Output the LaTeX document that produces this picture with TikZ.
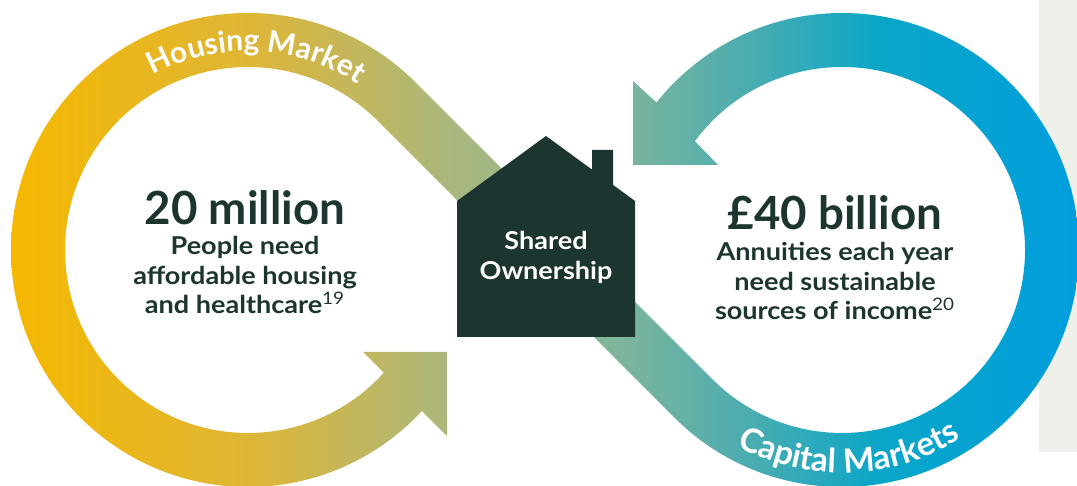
\documentclass[tikz,border=0pt]{standalone}
\usepackage{fontspec}
\setmainfont{Lato}
\newfontfamily\blurbfont[FakeStretch=1.1]{Lato}
\usetikzlibrary{calc, decorations.text}
\definecolor{housegreen}{RGB}{29,53,48}
\definecolor{darktext}{RGB}{29,53,48}
\definecolor{panelgray}{RGB}{240,240,235}
\definecolor{hmyellow}{RGB}{245,183,0}
\definecolor{hmgold}{RGB}{222,182,55}
\definecolor{hmsage}{RGB}{170,183,125}
\definecolor{midsage}{RGB}{150,183,140}
\definecolor{cmgreen}{RGB}{122,180,158}
\definecolor{cmteal}{RGB}{70,172,178}
\definecolor{cmcyan}{RGB}{10,166,200}
\definecolor{cmblue}{RGB}{0,158,222}
\pgfdeclarehorizontalshading{loopshade}{100bp}{color(0bp)=(hmyellow); color(25bp)=(hmyellow);
  color(36.2bp)=(hmgold); color(45.5bp)=(hmsage); color(50bp)=(midsage); color(54bp)=(cmgreen);
  color(60.1bp)=(cmteal); color(65.7bp)=(cmcyan); color(75bp)=(cmblue); color(100bp)=(cmblue)}

\begin{document}
\begin{tikzpicture}[x=0.02cm, y=0.02cm,
    bignum/.style={font=\bfseries\fontsize{26}{28}\selectfont, text=darktext, inner sep=0pt},
    blurb/.style={font=\blurbfont\bfseries\fontsize{14}{17}\selectfont, text=darktext, align=center, inner sep=0pt},
    looplabel/.style={decorate, decoration={text along path, text align=center, text color=white}}]
    \useasboundingbox (0,0) rectangle (1077,486);
    \coordinate (cl) at (248,236);
    \coordinate (cr) at (842,236);

    % grey panel on the right
    \fill[panelgray] (1039,34) rectangle (1077,486);

    % the band, both loops and both arrow heads
    \begin{scope}
        \clip (447,134) -- (363,134) -- ($(cl)+(-42.1:183)$) arc[start angle=-42.1, end angle=-315, radius=183]
            -- ($(cr)+(225:237)$) arc[start angle=225, end angle=501.5, radius=237]
            -- (633,405) -- (633,321) -- (718,321)
            -- ($(cr)+(143.5:183)$) arc[start angle=503.5, end angle=225, radius=183]
            -- ($(cl)+(45:237)$) arc[start angle=45, end angle=317.2, radius=237]
            -- (447,50) -- cycle;
        \shade[shading=loopshade] (11,0) rectangle (1079,486);
    \end{scope}

    \path[looplabel, decoration={text={|\bfseries\fontsize{17}{17}\selectfont|Housing Market}}]
        ($(cl)+(150:199)$) arc[start angle=150, end angle=25, radius=199];
    \path[looplabel, decoration={text={|\bfseries\fontsize{19}{19}\selectfont|Capital Markets}}]
        ($(cr)+(212:223)$) arc[start angle=212, end angle=332, radius=223];

    % house
    \fill[housegreen] (457,149) -- (457,285) -- (546,350) -- (592,316.4) -- (592,336) -- (613,336)
        -- (613,301.1) -- (635,285) -- (635,149) -- cycle;
    \node[blurb, text=white] (shared) at (546,229) {Shared\\Ownership};

    % left figures
    \node[bignum] (people) at (245,278) {20 million};
    \node[blurb] (peopletxt) at (245,211) {People need\\affordable housing\\and healthcare\textsuperscript{\mdseries 19}};

    % right figures
    \node[bignum] (annuity) at (835,273) {£40 billion};
    \node[blurb] (annuitytxt) at (835,205) {Annuities each year\\need sustainable\\sources of income\textsuperscript{\mdseries 20}};
\end{tikzpicture}
\end{document}
